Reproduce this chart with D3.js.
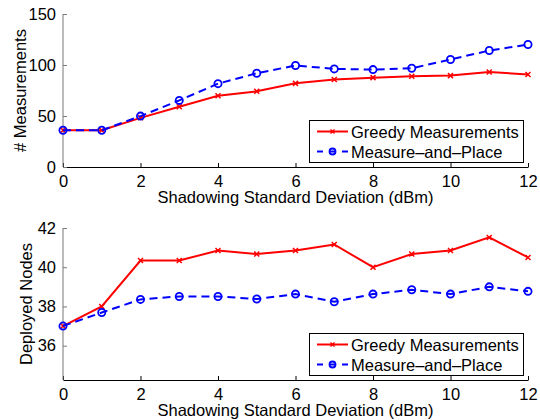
<!DOCTYPE html>
<html>
<head>
<meta charset="utf-8">
<script src="https://cdn.jsdelivr.net/npm/d3@7"></script>
<style>
  body { margin: 0; background: #fff; }
  svg { display: block; font-family: "Liberation Sans", Arial, sans-serif; }
</style>
</head>
<body>
<svg width="540" height="420"></svg>
<script>
// x values (shadowing std dev, dBm)
var sigma = [0, 1, 2, 3, 4, 5, 6, 7, 8, 9, 10, 11, 12];
var xTicks = [0, 2, 4, 6, 8, 10, 12];

// top panel: number of measurements
var greedyMeas = [36, 36, 48.2, 59.1, 69.9, 74.2, 82, 85.7, 87.6, 89, 89.6, 93.2, 90.6];
var mapMeas = [36, 36, 49.9, 65.3, 81.7, 91.9, 99.5, 96.2, 95.5, 96.8, 105.4, 114.2, 120.1];
var measTicks = [0, 50, 100, 150];

// bottom panel: deployed nodes
var greedyNodes = [37.0, 38.0, 40.34, 40.34, 40.85, 40.67, 40.85, 41.16, 40.0, 40.67, 40.85, 41.52, 40.5];
var mapNodes = [37.0, 37.69, 38.36, 38.51, 38.51, 38.38, 38.63, 38.24, 38.63, 38.85, 38.63, 39.0, 38.77];
var nodeTicks = [36, 38, 40, 42];

var seriesNames = ["Greedy Measurements", "Measure\u2013and\u2013Place"];

var fs = 16.5;
var svg = d3.select("svg");

var x = d3.scaleLinear().domain([0, 12]).range([63, 528]);

function panel(opt)
{
  var y = d3.scaleLinear().domain(opt.ydomain).range([opt.bottom, opt.top]);
  var g = svg.append("g");

  // bottom axis
  var xa = g.append("g")
    .attr("transform", "translate(0," + opt.bottom + ")")
    .call(d3.axisBottom(x).tickValues(xTicks).tickSizeInner(-4).tickSizeOuter(0).tickPadding(8));
  xa.select(".domain").attr("stroke", "#000");
  xa.selectAll("line").attr("stroke", "#000");
  xa.selectAll("text").attr("font-size", fs).attr("fill", "#000").attr("font-family", null);

  // left axis
  var ya = g.append("g")
    .attr("transform", "translate(63,0)")
    .call(d3.axisLeft(y).tickValues(opt.yticks).tickSizeInner(-4).tickSizeOuter(0).tickPadding(7));
  ya.select(".domain").attr("stroke", "#777")
    .attr("d", "M0," + opt.bottom + "V" + y(opt.yticks[opt.yticks.length - 1]));
  ya.selectAll("line").attr("stroke", "#777");
  ya.selectAll("text").attr("font-size", fs).attr("fill", "#000").attr("font-family", null);

  // axis labels
  g.append("text")
    .attr("x", (x.range()[0] + x.range()[1]) / 2)
    .attr("y", opt.bottom + 36)
    .attr("text-anchor", "middle")
    .attr("font-size", fs)
    .text("Shadowing Standard Deviation (dBm)");

  g.append("text")
    .attr("transform", "translate(" + opt.ylabelX + "," + (opt.top + opt.bottom) / 2 + ") rotate(-90)")
    .attr("text-anchor", "middle")
    .attr("font-size", fs)
    .text(opt.ylabel);

  var line = d3.line()
    .x(function(d, i) { return x(sigma[i]); })
    .y(function(d) { return y(d); });

  // greedy - red solid with x markers
  g.append("path")
    .datum(opt.greedy)
    .attr("d", line)
    .attr("fill", "none")
    .attr("stroke", "#ff0000")
    .attr("stroke-width", 2);

  g.selectAll("path.xm")
    .data(opt.greedy)
    .enter().append("path")
    .attr("class", "xm")
    .attr("d", function(d, i) {
      var cx = x(sigma[i]), cy = y(d), s = 2.5;
      return "M" + (cx - s) + "," + (cy - s) + "L" + (cx + s) + "," + (cy + s) +
             "M" + (cx - s) + "," + (cy + s) + "L" + (cx + s) + "," + (cy - s);
    })
    .attr("stroke", "#ff0000")
    .attr("stroke-width", 1.5);

  // measure-and-place - blue dashed with circles
  g.append("path")
    .datum(opt.map)
    .attr("d", line)
    .attr("fill", "none")
    .attr("stroke", "#0000ff")
    .attr("stroke-width", 2)
    .attr("stroke-dasharray", "8,5");

  g.selectAll("circle.om")
    .data(opt.map)
    .enter().append("circle")
    .attr("class", "om")
    .attr("cx", function(d, i) { return x(sigma[i]); })
    .attr("cy", function(d) { return y(d); })
    .attr("r", 3.6)
    .attr("fill", "none")
    .attr("stroke", "#0000ff")
    .attr("stroke-width", 1.8);

  // legend
  var lb = opt.bottom - 5, lt = lb - 42;
  var lg = g.append("g");
  lg.append("rect")
    .attr("x", 309.5).attr("y", lt + 0.5)
    .attr("width", 214).attr("height", 42)
    .attr("fill", "#fff").attr("stroke", "#000").attr("stroke-width", 1);

  var rows = [lt + 11.5, lt + 31.5];
  lg.append("line")
    .attr("x1", 317).attr("x2", 348).attr("y1", rows[0]).attr("y2", rows[0])
    .attr("stroke", "#ff0000").attr("stroke-width", 2);
  lg.append("path")
    .attr("d", "M330.5," + (rows[0] - 2) + "L334.5," + (rows[0] + 2) + "M330.5," + (rows[0] + 2) + "L334.5," + (rows[0] - 2))
    .attr("stroke", "#ff0000").attr("stroke-width", 1.5);
  lg.append("line")
    .attr("x1", 317).attr("x2", 348).attr("y1", rows[1]).attr("y2", rows[1])
    .attr("stroke", "#0000ff").attr("stroke-width", 2).attr("stroke-dasharray", "6,6.5");
  lg.append("circle")
    .attr("cx", 332.5).attr("cy", rows[1]).attr("r", 3)
    .attr("fill", "none").attr("stroke", "#0000ff").attr("stroke-width", 1.8);

  lg.selectAll("text.lt")
    .data(seriesNames)
    .enter().append("text")
    .attr("class", "lt")
    .attr("x", 351)
    .attr("y", function(d, i) { return rows[i] + 6; })
    .attr("font-size", fs)
    .text(function(d) { return d; });
}

panel({
  top: 14, bottom: 167, ydomain: [0, 150], yticks: measTicks,
  ylabel: "# Measurements", ylabelX: 26,
  greedy: greedyMeas, map: mapMeas
});

panel({
  top: 228, bottom: 380, ydomain: [34.25, 42], yticks: nodeTicks,
  ylabel: "Deployed Nodes", ylabelX: 32,
  greedy: greedyNodes, map: mapNodes
});
</script>
</body>
</html>
